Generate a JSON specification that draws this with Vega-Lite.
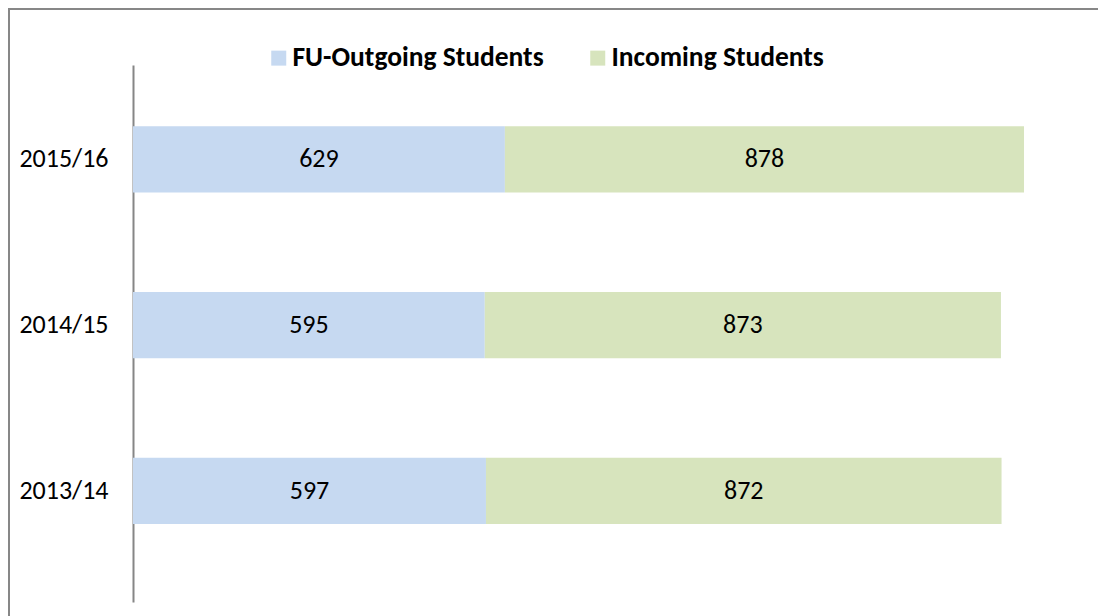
{
  "$schema": "https://vega.github.io/schema/vega-lite/v6.json",
  "width": 1095,
  "height": 613,
  "autosize": {"type": "none"},
  "padding": {"left": 9, "top": 9, "right": -6, "bottom": -6},
  "background": "white",
  "config": {
    "view": {"stroke": "#878787", "strokeWidth": 2},
    "font": "Carlito, Lato, sans-serif"
  },
  "data": {
    "values": [
      {"year": "2015/16", "series": "FU-Outgoing Students", "value": 629},
      {"year": "2015/16", "series": "Incoming Students", "value": 878},
      {"year": "2014/15", "series": "FU-Outgoing Students", "value": 595},
      {"year": "2014/15", "series": "Incoming Students", "value": 873},
      {"year": "2013/14", "series": "FU-Outgoing Students", "value": 597},
      {"year": "2013/14", "series": "Incoming Students", "value": 872}
    ]
  },
  "transform": [
    {"stack": "value", "groupby": ["year"], "sort": [{"field": "series", "order": "ascending"}], "as": ["x0", "x1"]},
    {"calculate": "(datum.x0 + datum.x1) / 2", "as": "mid"}
  ],
  "encoding": {
    "y": {
      "field": "year",
      "type": "nominal",
      "sort": ["2015/16", "2014/15", "2013/14"],
      "scale": {"range": [56, 593], "paddingInner": 0.6, "paddingOuter": 0.42, "align": 0.44},
      "axis": {
        "title": null,
        "offset": -124,
        "ticks": false,
        "labelPadding": 25,
        "labelFontSize": 26,
        "labelColor": "#000000",
        "labelFont": "Carlito, Lato, sans-serif",
        "domainColor": "#868686",
        "domainWidth": 2,
        "grid": false
      }
    }
  },
  "layer": [
    {
      "mark": {"type": "bar"},
      "encoding": {
        "x": {"field": "x0", "type": "quantitative", "scale": {"domain": [0, 1600], "range": [124, 1070]}, "axis": null},
        "x2": {"field": "x1"},
        "color": {
          "field": "series",
          "type": "nominal",
          "scale": {"domain": ["FU-Outgoing Students", "Incoming Students"], "range": ["#C6D9F1", "#D7E4BD"]},
          "legend": {
            "title": null,
            "orient": "none",
            "direction": "horizontal",
            "legendX": 256,
            "legendY": 35,
            "symbolType": "square",
            "symbolSize": 225,
            "symbolStrokeWidth": 0,
            "labelFontSize": 27.5,
            "labelFontWeight": "bold",
            "labelColor": "#000000",
            "labelFont": "Carlito, Lato, sans-serif",
            "labelOffset": 0,
            "columnPadding": 40,
            "labelLimit": 400
          }
        }
      }
    },
    {
      "mark": {"type": "text", "fontSize": 26, "color": "#000000", "baseline": "middle", "align": "center"},
      "encoding": {
        "x": {"field": "mid", "type": "quantitative"},
        "text": {"field": "value", "type": "quantitative"}
      }
    }
  ]
}
